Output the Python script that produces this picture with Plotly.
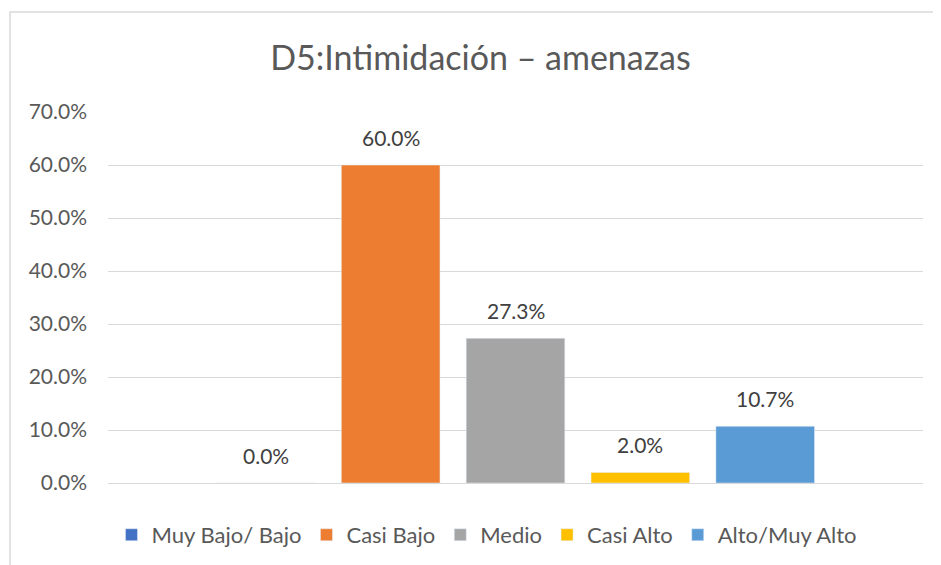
# D5 chart - Intimidacion / amenazas
# Excel style bar chart, one bar per level, legend at bottom

import plotly.graph_objects as go

categories = ["Muy Bajo/ Bajo", "Casi Bajo", "Medio", "Casi Alto", "Alto/Muy Alto"]
values = [0.0, 60.0, 27.3, 2.0, 10.7]
colors = ["#4472C4", "#ED7D31", "#A5A5A5", "#FFC000", "#5B9BD5"]
y_ticks = [0, 10, 20, 30, 40, 50, 60, 70]

FONT = "Lato"
GREY = "#595959"

fig = go.Figure()

for i, (name, v, c) in enumerate(zip(categories, values, colors)):
    fig.add_trace(go.Bar(
        x=[i],
        y=[v],
        name=name,
        marker_color=c,
        width=0.79,
        hoverinfo="name+y",
    ))
    # data label above the bar (Excel puts it a bit higher than plotly does)
    fig.add_annotation(
        x=i, y=v, text=f"{v:.1f}%",
        showarrow=False, yanchor="bottom", yshift=13,
        font=dict(family=FONT, size=21, color="#404040"),
    )

# light grey chart border (runs off the right/bottom edge like the original)
fig.add_shape(
    type="rect", xref="paper", yref="paper",
    x0=-0.1202, x1=1.2, y0=-0.4, y1=1.2695,
    line=dict(color="#D9D9D9", width=1.5),
    fillcolor="rgba(0,0,0,0)", layer="below",
)

# page body has an 8px margin, so the figure is 8px smaller than the window
fig.update_layout(
    title=dict(
        text="D5:Intimidación – amenazas",
        x=0.5064, xanchor="center", y=0.91, yanchor="middle",
        font=dict(family=FONT, size=34, color=GREY),
    ),
    barmode="overlay",
    width=933, height=557,
    margin=dict(l=100, r=18, t=104, b=82, autoexpand=False),
    paper_bgcolor="white",
    plot_bgcolor="white",
    showlegend=True,
    legend=dict(
        orientation="h",
        x=0.465, xanchor="center",
        y=-0.14, yanchor="middle",
        font=dict(family=FONT, size=22, color=GREY),
        itemclick=False,
    ),
    xaxis=dict(
        range=[-1.264, 5.264],
        showticklabels=False,
        showgrid=False,
        zeroline=False,
        fixedrange=True,
    ),
    yaxis=dict(
        range=[0, 70],
        tickvals=y_ticks,
        ticktext=[f"{t:.1f}%" for t in y_ticks],
        showgrid=True,
        gridcolor="#D9D9D9",
        gridwidth=1,
        zeroline=True,
        zerolinecolor="#D9D9D9",
        zerolinewidth=1,
        ticks="",
        ticklabelstandoff=20,
        tickfont=dict(family=FONT, size=21, color=GREY),
        fixedrange=True,
    ),
)

fig.write_html("out.html")
